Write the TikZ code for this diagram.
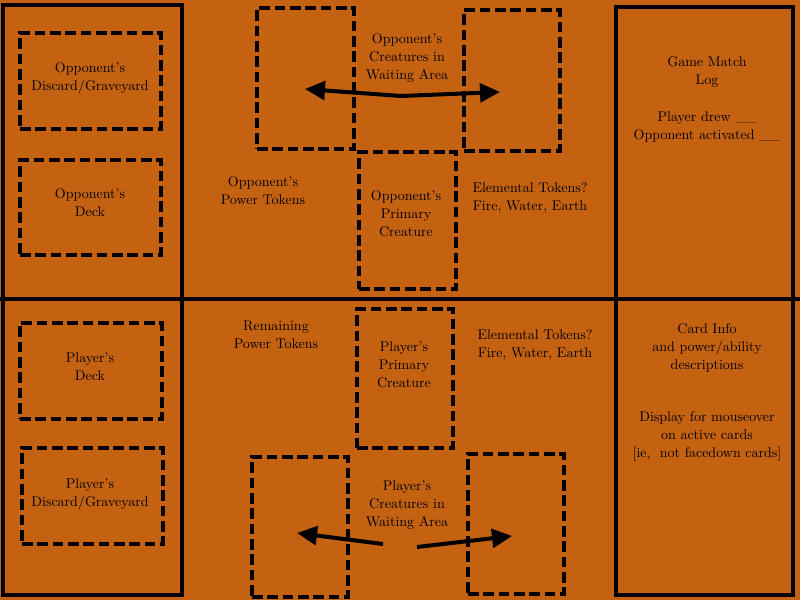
\documentclass[tikz,border=0pt]{standalone}
\usetikzlibrary{arrows.meta}
\definecolor{boardbg}{RGB}{196,98,18}
\begin{document}
\begin{tikzpicture}[x=0.75pt,y=-0.75pt,
  panel/.style={draw=black,line width=3pt},
  dbox/.style={draw=black,line width=2.7pt,dash pattern=on 8pt off 3.5pt,inner sep=0pt,
    minimum width={(#1)*0.75pt}},
  dbox/.default=96,
  lbl/.style={align=center,font=\fontsize{10.5}{13.5}\selectfont,text=black,inner sep=0pt},
  bigarrow/.style={line width=3pt,-{Triangle[length=15pt,width=14pt]}}]
\useasboundingbox (0,0) rectangle (800,600);
\fill[boardbg] (0,0) rectangle (800,600);
% main panels
\node[panel,inner sep=0pt,minimum width=179*0.75pt,minimum height=590*0.75pt] (leftpanel) at (92.5,300) {};
\node[panel,inner sep=0pt,minimum width=177*0.75pt,minimum height=588*0.75pt] (rightpanel) at (704.5,301) {};
\coordinate (divL) at (0,299);
\coordinate (divR) at (800,299);
\draw[panel] (divL) -- (divR);
% left dashed boxes
\node[dbox=141,minimum height=96*0.75pt] (oppdiscard) at (90.5,81) {};
\node[dbox=141,minimum height=95*0.75pt] (oppdeck) at (90.5,207.5) {};
\node[dbox=142,minimum height=96*0.75pt] (pldeck) at (91,371) {};
\node[dbox=141,minimum height=96*0.75pt] (pldiscard) at (92.5,496) {};
\node[lbl] (toppdiscard) at (90,78) {Opponent's\\Discard/Graveyard};
\node[lbl] (toppdeck) at (90,202.5) {Opponent's\\Deck};
\node[lbl] (tpldeck) at (90,367) {Player's\\Deck};
\node[lbl] (tpldiscard) at (90,494) {Player's\\Discard/Graveyard};
% opponent centre
\node[dbox=97,minimum height=141*0.75pt] (oppwaitL) at (305.5,78.5) {};
\node[dbox=96,minimum height=141*0.75pt] (oppwaitR) at (512,80.5) {};
\node[dbox=97,minimum height=137*0.75pt] (oppprimary) at (407.5,220.5) {};
\node[lbl] (toppwait) at (407,58) {Opponent's\\Creatures in\\Waiting Area};
\node[lbl] (toppprimary) at (406,214) {Opponent's\\Primary\\Creature};
\node[lbl] (toppower) at (263,190.5) {Opponent's\\Power Tokens};
\node[lbl] (toppelem) at (530,197.5) {Elemental Tokens?\\Fire, Water, Earth};
\coordinate (oppmid) at (401,96);
\coordinate (opptipL) at (305,89);
\coordinate (opptipR) at (500,92);
\draw[bigarrow] (oppmid) -- (opptipL);
\draw[bigarrow] (oppmid) -- (opptipR);
% player centre
\node[dbox=96,minimum height=139*0.75pt] (plprimary) at (405,378.5) {};
\node[dbox=96,minimum height=140*0.75pt] (plwaitL) at (300,527) {};
\node[dbox=96,minimum height=140*0.75pt] (plwaitR) at (516,524) {};
\node[lbl] (tplprimary) at (404,365) {Player's\\Primary\\Creature};
\node[lbl] (tplwait) at (407,505) {Player's\\Creatures in\\Waiting Area};
\node[lbl] (tplpower) at (276,335) {Remaining\\Power Tokens};
\node[lbl] (tplelem) at (535,345) {Elemental Tokens?\\Fire, Water, Earth};
\coordinate (plstartL) at (383,544);
\coordinate (pltipL) at (297,533);
\coordinate (plstartR) at (417,547);
\coordinate (pltipR) at (512,536);
\draw[bigarrow] (plstartL) -- (pltipL);
\draw[bigarrow] (plstartR) -- (pltipR);
% right panel texts
\node[lbl] (tlog) at (707,72.5) {Game Match\\Log};
\node[lbl] (tlogitems) at (707,127) {Player drew \_\_\\Opponent activated \_\_};
\node[lbl] (tinfo) at (707,348) {Card Info\\and power/ability\\descriptions};
\node[lbl] (tmouse) at (707,436) {Display for mouseover\\on active cards\\{[ie,\ \ not facedown cards]}};
\end{tikzpicture}
\end{document}
